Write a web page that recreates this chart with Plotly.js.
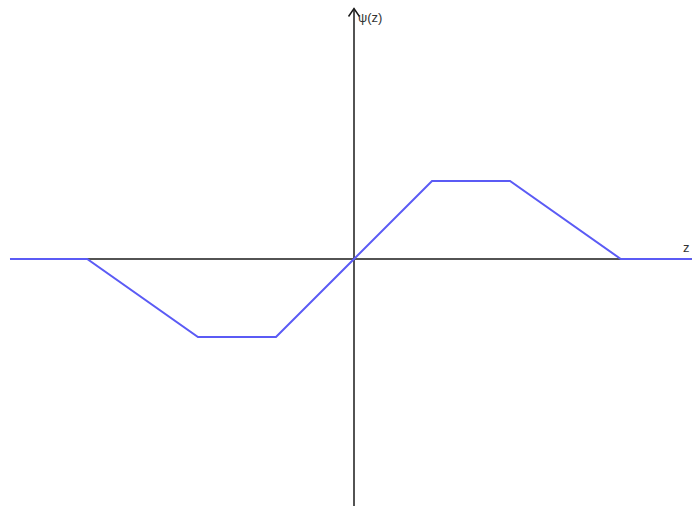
<!DOCTYPE html>
<html>
<head>
<meta charset="utf-8">
<script src="https://cdn.plot.ly/plotly-3.0.1.min.js"></script>
<style>
  html, body { margin: 0; padding: 0; background: #fff; }
  #chart { width: 692px; height: 506px; }
</style>
</head>
<body>
<div id="chart"></div>
<script>
// Hampel's redescending psi function, piecewise linear
const zKnots   = [-4.41, -3.42, -2.0, -1.0, 0.0, 1.0, 2.0, 3.42, 4.33];
const psiKnots = [ 0.0,   0.0,  -1.0, -1.0, 0.0, 1.0, 1.0, 0.0,  0.0];

const xLabel = 'z';
const yLabel = 'ψ(z)';

// axis extents (data units)
const xRange = [-4.538, 4.333];
const yRange = [-3.167, 3.321];
const xAxisSpan = [-4.41, 4.33];
const yAxisSpan = [-3.17, 3.21];

const psiTrace = {
  x: zKnots, y: psiKnots, mode: 'lines', type: 'scatter',
  line: { color: '#5b5bf5', width: 2 }, hoverinfo: 'skip'
};

const axisColor = '#1a1a1a';
const hx = 0.07, hy = 0.1;  // arrowhead half-width / depth
const axisTraces = [
  { x: xAxisSpan, y: [0, 0], mode: 'lines', line: { color: axisColor, width: 1.5 } },
  { x: [0, 0], y: yAxisSpan, mode: 'lines', line: { color: axisColor, width: 1.5 } },
  { x: [-hx, 0, hx], y: [yAxisSpan[1] - hy, yAxisSpan[1], yAxisSpan[1] - hy],
    mode: 'lines', line: { color: axisColor, width: 1.5 } }
].map(t => Object.assign({ type: 'scatter', hoverinfo: 'skip' }, t));

const labelFont = { family: 'Liberation Sans, Arial, sans-serif', size: 13, color: '#333' };

const layout = {
  width: 692, height: 506,
  margin: { l: 0, r: 0, t: 0, b: 0 },
  paper_bgcolor: '#fff', plot_bgcolor: '#fff',
  showlegend: false,
  xaxis: { range: xRange, visible: false, fixedrange: true },
  yaxis: { range: yRange, visible: false, fixedrange: true },
  annotations: [
    { x: 0.03, y: yAxisSpan[1] - 0.11, xanchor: 'left', yanchor: 'middle', text: yLabel,
      showarrow: false, font: labelFont },
    { x: 4.33, y: 0.03, xanchor: 'right', yanchor: 'bottom', text: xLabel,
      showarrow: false, font: labelFont }
  ]
};

Plotly.newPlot('chart', axisTraces.concat([psiTrace]), layout, { displayModeBar: false, staticPlot: true });
</script>
</body>
</html>
